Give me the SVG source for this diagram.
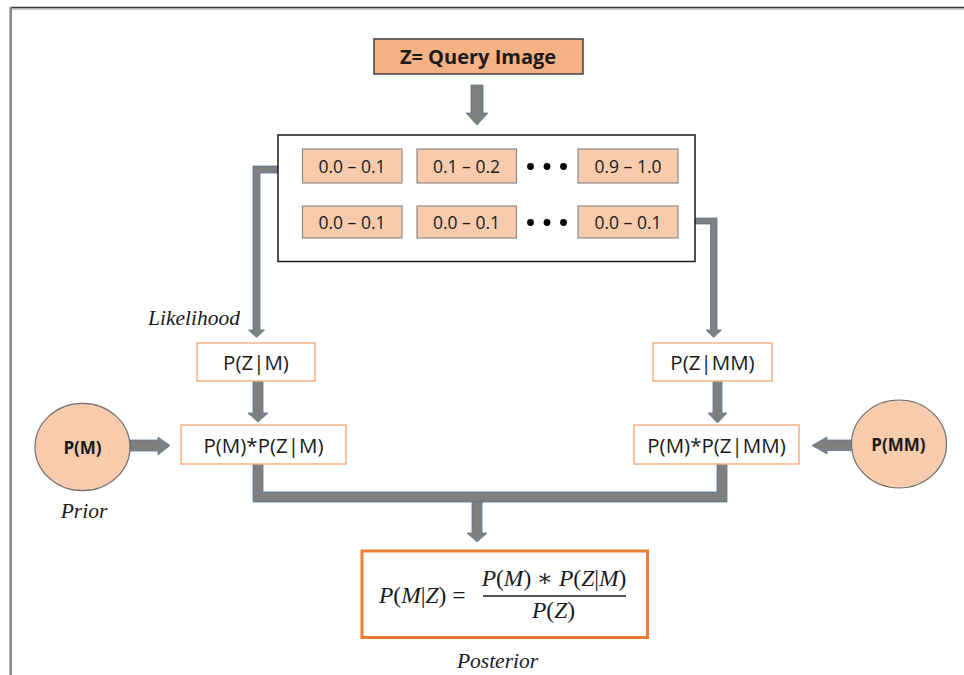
<svg xmlns="http://www.w3.org/2000/svg" width="964" height="675" viewBox="0 0 964 675">
  <style>
    .frame-dark { stroke: #3a3a3a; stroke-width: 1.2; fill: none; }
    .frame-gray { stroke: #9a9a9a; stroke-width: 1.4; fill: none; }
    .conn { fill: #7f7f7f; stroke: #5b7399; stroke-width: 0.8; stroke-linejoin: miter; }
    .query { fill: #F4B183; stroke: #404040; stroke-width: 1.5; }
    .bins { fill: #ffffff; stroke: #1a1a1a; stroke-width: 1.5; }
    .bin { fill: #F8CBAD; stroke: #8a8a8a; stroke-width: 1.2; }
    .prob { fill: #ffffff; stroke: #F4B183; stroke-width: 1.5; }
    .prior { fill: #F8CBAD; stroke: #6f6f6f; stroke-width: 1.2; }
    .post { fill: #ffffff; stroke: #ED7D31; stroke-width: 3; }
    .sans { font-family: "Open Sans", "Liberation Sans", sans-serif; fill: #1a1a1a; }
    .bold { font-weight: bold; }
    .lbl { font-family: "Liberation Serif", "DejaVu Serif", serif; font-style: italic; font-size: 21.5px; fill: #1a1a1a; }
    .math { font-family: "Liberation Serif", "DejaVu Serif", serif; font-size: 23.5px; fill: #1a1a1a; }
    .it { font-style: italic; }
    .dot { fill: #000000; }
    .binlbl { font-size: 17.5px; }
    .problbl { font-size: 20.5px; }
  </style>

  <!-- page frame (top and left edges) -->
  <g id="frame">
    <line class="frame-dark" x1="10" y1="7.4" x2="964" y2="7.4"/>
    <line class="frame-gray" x1="10" y1="8.9" x2="964" y2="8.9"/>
    <line x1="10.7" y1="7" x2="10.7" y2="675" stroke="#8a8a8a" stroke-width="2.6"/>
  </g>

  <!-- connectors -->
  <g id="connectors">
    <!-- query image down to histogram bins -->
    <path class="conn" d="M471,85 L483,85 L483,113 L488,113 L477,125 L466,113 L471,113 Z"/>
    <!-- bins to P(Z|M) -->
    <path class="conn" d="M278,166 L253,166 L253,330 L248.5,330 L256.5,337.5 L264.5,330 L260,330 L260,173 L278,173 Z"/>
    <!-- bins to P(Z|MM) -->
    <path class="conn" d="M695,218 L717,218 L717,330 L721.5,330 L713.7,337.5 L706,330 L710.5,330 L710.5,224 L695,224 Z"/>
    <!-- P(Z|M) to product -->
    <path class="conn" d="M253,381 L263,381 L263,413 L268,413 L258,422 L248,413 L253,413 Z"/>
    <!-- P(Z|MM) to product -->
    <path class="conn" d="M713,381 L722,381 L722,413 L727,413 L717.5,423 L708,413 L713,413 Z"/>
    <!-- prior P(M) to product -->
    <path class="conn" d="M130,440 L158,440 L158,437 L170,445.5 L158,455 L158,451 L130,451 Z"/>
    <!-- prior P(MM) to product -->
    <path class="conn" d="M852,440 L827,440 L827,437 L812,445.5 L827,454 L827,450.5 L852,450.5 Z"/>
    <!-- products merged -->
    <path class="conn" d="M253,464 L263,464 L263,492 L717,492 L717,464 L727,464 L727,502 L253,502 Z"/>
    <!-- merge down to posterior -->
    <path class="conn" d="M472,502 L482,502 L482,533 L487,533 L477,542 L467,533 L472,533 Z"/>
  </g>

  <g id="query">
    <rect class="query" x="374" y="39" width="209" height="35"/>
    <text class="sans bold" x="478" y="63.5" font-size="20" text-anchor="middle">Z= Query Image</text>
  </g>

  <g id="bins">
    <rect class="bins" x="278" y="135" width="417" height="126.5"/>
    <g class="bin-row">
      <rect class="bin" x="302.5" y="149" width="99.5" height="34"/>
      <rect class="bin" x="417" y="149" width="99.5" height="34"/>
      <rect class="bin" x="578" y="149" width="100" height="34"/>
      <text class="sans binlbl" text-anchor="middle" x="352" y="172.5">0.0 – 0.1</text>
      <text class="sans binlbl" text-anchor="middle" x="466.5" y="172.5">0.1 – 0.2</text>
      <text class="sans binlbl" text-anchor="middle" x="628" y="172.5">0.9 – 1.0</text>
      <circle class="dot" cx="530.5" cy="166.5" r="3.4"/>
      <circle class="dot" cx="547" cy="166.5" r="3.4"/>
      <circle class="dot" cx="563.5" cy="166.5" r="3.4"/>
    </g>
    <g class="bin-row">
      <rect class="bin" x="302.5" y="206" width="99.5" height="32"/>
      <rect class="bin" x="417" y="206" width="99.5" height="32"/>
      <rect class="bin" x="578" y="206" width="100" height="32"/>
      <text class="sans binlbl" text-anchor="middle" x="352" y="228.5">0.0 – 0.1</text>
      <text class="sans binlbl" text-anchor="middle" x="466.5" y="228.5">0.0 – 0.1</text>
      <text class="sans binlbl" text-anchor="middle" x="628" y="228.5">0.0 – 0.1</text>
      <circle class="dot" cx="530.5" cy="222.5" r="3.4"/>
      <circle class="dot" cx="547" cy="222.5" r="3.4"/>
      <circle class="dot" cx="563.5" cy="222.5" r="3.4"/>
    </g>
  </g>

  <g id="likelihood-label">
    <text class="lbl" x="194" y="325" text-anchor="middle">Likelihood</text>
  </g>

  <g id="p-z-m">
    <rect class="prob" x="197" y="343" width="118" height="38"/>
    <text class="sans problbl" text-anchor="middle" x="256" y="369.5">P(Z|M)</text>
  </g>

  <g id="p-z-mm">
    <rect class="prob" x="653" y="343" width="119" height="38"/>
    <text class="sans problbl" text-anchor="middle" x="712.5" y="369.5">P(Z|MM)</text>
  </g>

  <g id="product-m">
    <rect class="prob" x="181" y="425" width="165" height="39"/>
    <text class="sans problbl" text-anchor="middle" x="263.5" y="452.5">P(M)*P(Z|M)</text>
  </g>

  <g id="product-mm">
    <rect class="prob" x="634" y="425" width="165" height="39"/>
    <text class="sans problbl" text-anchor="middle" x="716.5" y="452.5">P(M)*P(Z|MM)</text>
  </g>

  <g id="prior-m">
    <ellipse class="prior" cx="82.5" cy="447" rx="47.5" ry="43.7"/>
    <text class="sans bold" font-size="17" text-anchor="middle" x="82.5" y="453.5">P(M)</text>
  </g>
  <g id="prior-label">
    <text class="lbl" x="84" y="518" text-anchor="middle">Prior</text>
  </g>

  <g id="prior-mm">
    <ellipse class="prior" cx="899" cy="444" rx="47.5" ry="44"/>
    <text class="sans bold" font-size="17" text-anchor="middle" x="898.5" y="450.5">P(MM)</text>
  </g>

  <g id="posterior">
    <rect class="post" x="362" y="551" width="285.5" height="86.5"/>
    <text class="math" x="379" y="603"><tspan class="it">P</tspan>(<tspan class="it">M</tspan>|<tspan class="it">Z</tspan>) =</text>
    <text class="math" x="554" y="585.5" text-anchor="middle"><tspan class="it">P</tspan>(<tspan class="it">M</tspan>) ∗ <tspan class="it">P</tspan>(<tspan class="it">Z</tspan>|<tspan class="it">M</tspan>)</text>
    <line x1="483" y1="596" x2="626" y2="596" stroke="#1a1a1a" stroke-width="1.3"/>
    <text class="math" x="553.5" y="618" text-anchor="middle"><tspan class="it">P</tspan>(<tspan class="it">Z</tspan>)</text>
  </g>
  <g id="posterior-label">
    <text class="lbl" x="497.5" y="668" text-anchor="middle">Posterior</text>
  </g>
</svg>
